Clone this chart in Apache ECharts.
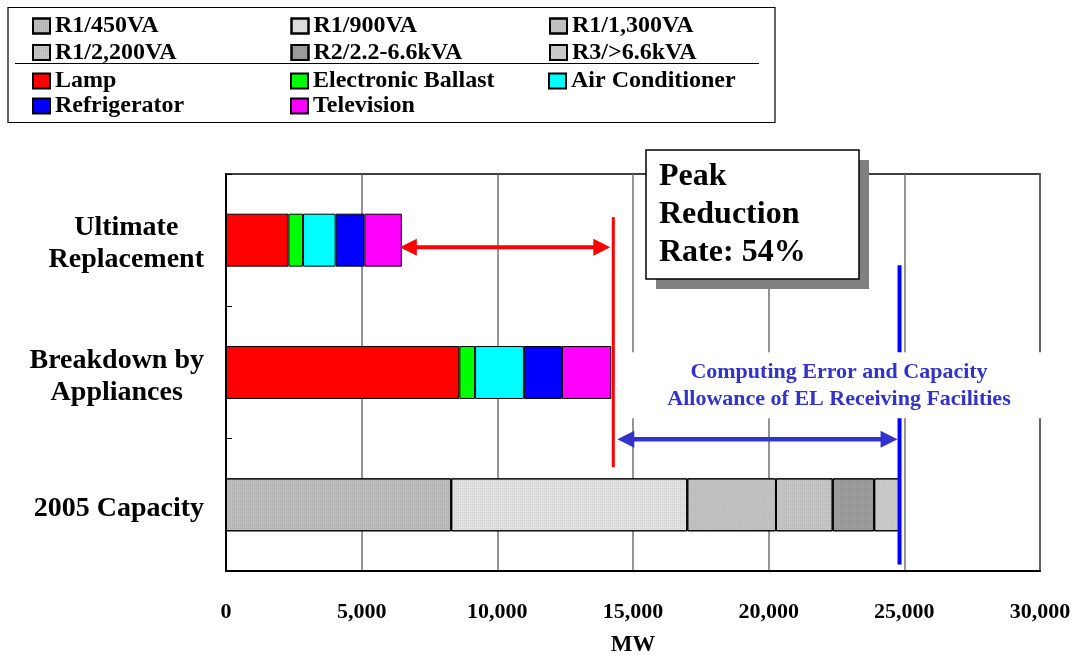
<!DOCTYPE html>
<html>
<head>
<meta charset="utf-8">
<script src="https://cdn.jsdelivr.net/npm/echarts@6/dist/echarts.min.js"></script>
<style>
  html, body { margin: 0; padding: 0; background: #fff; }
  #chart { width: 1076px; height: 655px; }
</style>
</head>
<body>
<div id="chart"></div>
<script>
// Peak load (MW): 2005 capacity by tariff class vs. the load broken down by appliance
const categories = ['Ultimate\nReplacement', 'Breakdown by\nAppliances', '2005 Capacity'];

const capacityNames = ['R1/450VA', 'R1/900VA', 'R1/1,300VA', 'R1/2,200VA', 'R2/2.2-6.6kVA', 'R3/>6.6kVA'];
const capacityMW = [8300, 8700, 3270, 2090, 1530, 970];
const capacityColors = ['#bebebe', '#e2e2e2', '#c4c4c4', '#c6c6c6', '#9e9e9e', '#cdcdcd'];
const capacityHatch = [0, 0, 1, 0, 0, 1];   // 1 = diagonal grain, 0 = dotted grain

const applianceNames = ['Lamp', 'Electronic Ballast', 'Air Conditioner', 'Refrigerator', 'Television'];
const breakdownMW = [8600, 580, 1800, 1400, 1820];
const ultimateMW = [2300, 540, 1200, 1060, 1380];
const applianceColors = ['#ff0000', '#00ff00', '#00ffff', '#0000ff', '#ff00ff'];

const xMin = 0, xMax = 30000, xStep = 5000;
const axisTitle = 'MW';

const FONT = '"Liberation Serif", "Times New Roman", serif';
const sum = a => a.reduce((s, v) => s + v, 0);
const capacityTotal = sum(capacityMW);
const breakdownTotal = sum(breakdownMW);
const ultimateTotal = sum(ultimateMW);
const reductionRate = Math.round((1 - ultimateTotal / breakdownTotal) * 100);

const series = [];
capacityNames.forEach((name, i) => {
  series.push({
    name, type: 'bar', stack: 'load', barWidth: '40%',
    itemStyle: {
      color: capacityColors[i], borderColor: '#000', borderWidth: 1,
      decal: {
        symbol: 'rect', symbolSize: 1, dashArrayX: [1, 1], dashArrayY: [1, 1],
        rotation: capacityHatch[i] ? Math.PI / 4 : 0,
        color: 'rgba(0,0,0,0.09)'
      }
    },
    data: ['-', '-', capacityMW[i]]
  });
});
applianceNames.forEach((name, i) => {
  series.push({
    name, type: 'bar', stack: 'load', barWidth: '40%',
    itemStyle: { color: applianceColors[i], borderColor: '#000', borderWidth: 1 },
    data: [ultimateMW[i], breakdownMW[i], '-']
  });
});

const legendText = (w) => ({
  color: '#000', fontFamily: FONT, fontWeight: 'bold', fontSize: 24,
  rich: { n: { width: w, color: '#000', fontFamily: FONT, fontWeight: 'bold', fontSize: 24, lineHeight: 24 } }
});

const option = {
  animation: false,
  backgroundColor: '#fff',
  legend: [
    {
      data: capacityNames, left: 32, top: 14, width: 800, padding: 0,
      orient: 'horizontal', icon: 'rect', itemWidth: 17, itemHeight: 15, itemGap: 2.5,
      selectedMode: false, formatter: '{n|{name}}', textStyle: legendText(233)
    },
    {
      data: applianceNames, left: 32, top: 69, width: 800, padding: 0,
      orient: 'horizontal', icon: 'rect', itemWidth: 17, itemHeight: 15, itemGap: 1,
      selectedMode: false, formatter: '{n|{name}}', textStyle: legendText(234)
    }
  ],
  grid: {
    left: 226, right: 36, top: 174, bottom: 84,
    outerBoundsMode: 'none',
    show: true, borderColor: '#000', borderWidth: 1.5
  },
  xAxis: {
    type: 'value', min: xMin, max: xMax, interval: xStep,
    name: axisTitle, nameLocation: 'middle', nameGap: 63,
    nameTextStyle: { color: '#000', fontFamily: FONT, fontWeight: 'bold', fontSize: 23 },
    axisLine: { show: true, lineStyle: { color: '#000', width: 2 } },
    axisTick: { show: false },
    axisLabel: {
      margin: 30, color: '#000', fontFamily: FONT, fontWeight: 'bold', fontSize: 22,
      formatter: v => v.toLocaleString('en-US')
    },
    splitLine: { show: true, lineStyle: { color: '#707070', width: 1.5 } }
  },
  yAxis: {
    type: 'category', inverse: true, data: categories,
    axisLine: { show: true, lineStyle: { color: '#000', width: 2 } },
    axisTick: { show: true, inside: true, length: 6, lineStyle: { color: '#000', width: 1 } },
    axisLabel: {
      margin: 22, align: 'right', padding: [8, 0, 0, 0],
      formatter: v => v.split('\n').map(s => '{c|' + s + '}').join('\n'),
      rich: { c: { align: 'center', color: '#000', fontFamily: FONT, fontWeight: 'bold', fontSize: 28, lineHeight: 32 } }
    },
    splitLine: { show: false }
  },
  series
};

const chart = echarts.init(document.getElementById('chart'), null, { renderer: 'canvas' });
chart.setOption(option);

// Annotations placed through the axis scales
const px = v => chart.convertToPixel({ xAxisIndex: 0 }, v);
const py = i => chart.convertToPixel({ yAxisIndex: 0 }, i);
const c0 = py(0), c1 = py(1), c2 = py(2);
const band = c1 - c0;

function arrow(x1, x2, y, color, width, z) {
  const head = 17, half = 8.5;
  return [
    { type: 'line', z, shape: { x1: x1 + head - 2, y1: y, x2: x2 - head + 2, y2: y }, style: { stroke: color, lineWidth: width } },
    { type: 'polygon', z, shape: { points: [[x1, y], [x1 + head, y - half], [x1 + head, y + half]] }, style: { fill: color } },
    { type: 'polygon', z, shape: { points: [[x2, y], [x2 - head, y - half], [x2 - head, y + half]] }, style: { fill: color } }
  ];
}

const redX = px(breakdownTotal) + 2;
const blueX = px(capacityTotal) - 1;
const ultEnd = px(ultimateTotal);
const blueArrowY = (c1 + c2) / 2 + 0.5;

const elements = [];
// reference line for the appliance breakdown total
elements.push({ type: 'line', z: 50, shape: { x1: redX, y1: c0 - 0.174 * band, x2: redX, y2: c2 - 0.284 * band },
  style: { stroke: '#ff0000', lineWidth: 3 } });
// capacity total line
elements.push({ type: 'line', z: 50, shape: { x1: blueX, y1: c0 + 0.19 * band, x2: blueX, y2: c2 + 0.45 * band },
  style: { stroke: '#0000ff', lineWidth: 4 } });
elements.push(...arrow(ultEnd - 2, redX - 3, c0 + 0.053 * band, '#ff0000', 4, 55));
elements.push(...arrow(redX + 4, blueX - 2, blueArrowY, '#3333cc', 4.5, 55));

// allowance note on a white ground
const noteX = 839, noteY = c1 + 0.1 * band;
elements.push({ type: 'rect', z: 60, shape: { x: 621, y: noteY - 33.5, width: 425, height: 66 }, style: { fill: '#fff' } });
elements.push({ type: 'text', z: 61, x: noteX, y: noteY,
  style: { text: 'Computing Error and Capacity\nAllowance of EL Receiving Facilities',
    fill: '#3333cc', font: 'bold 22px ' + FONT, align: 'center', verticalAlign: 'middle', lineHeight: 27 } });

// peak reduction call-out
elements.push({ type: 'rect', z: 70, shape: { x: 656, y: 160, width: 213, height: 129 }, style: { fill: '#808080' } });
elements.push({ type: 'rect', z: 71, shape: { x: 646, y: 150, width: 213, height: 129 }, style: { fill: '#fff', stroke: '#000', lineWidth: 1.5 } });
elements.push({ type: 'text', z: 72, x: 659, y: 158,
  style: { text: 'Peak\nReduction\nRate: ' + reductionRate + '%', fill: '#000', font: 'bold 32px ' + FONT,
    align: 'left', verticalAlign: 'top', lineHeight: 38 } });

// legend frame and divider
elements.push({ type: 'rect', z: 5, shape: { x: 8, y: 7.5, width: 767, height: 115 }, style: { fill: 'none', stroke: '#000', lineWidth: 1.2 } });
elements.push({ type: 'line', z: 5, shape: { x1: 15, y1: 63.5, x2: 759, y2: 63.5 }, style: { stroke: '#000', lineWidth: 1.2 } });

chart.setOption({ graphic: { elements } });
</script>
</body>
</html>
